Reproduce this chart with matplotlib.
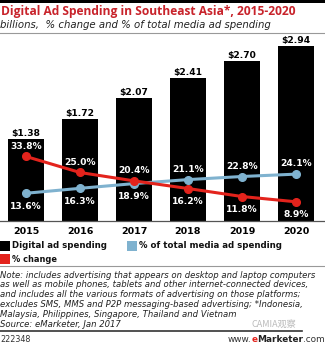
import matplotlib
matplotlib.use("Agg")
import matplotlib.pyplot as plt
from matplotlib.patches import Rectangle
from matplotlib.lines import Line2D
from matplotlib.offsetbox import TextArea, HPacker, AnchoredOffsetbox

years = ["2015", "2016", "2017", "2018", "2019", "2020"]
spending = [1.38, 1.72, 2.07, 2.41, 2.70, 2.94]
pct_change = [33.8, 25.0, 20.4, 16.2, 11.8, 8.9]
pct_total = [13.6, 16.3, 18.9, 21.1, 22.8, 24.1]
spend_labels = ["$1.38", "$1.72", "$2.07", "$2.41", "$2.70", "$2.94"]

RED = "#e3231c"
BLUE = "#7fb2cf"
TITLE_RED = "#c8232b"

W, H = 325, 346
plt.rcParams['font.family'] = ['DejaVu Sans']
fig = plt.figure(figsize=(W / 100, H / 100), dpi=100)
renderer = fig.canvas.get_renderer()

def fy(py):
    return 1 - py / H

def fx(px):
    return px / W

def fit(t, target_px):
    w = t.get_window_extent(renderer=renderer).width
    t.set_fontsize(t.get_fontsize() * target_px / w)

# top thick black band
fig.add_artist(Rectangle((0, fy(3)), 1, 3 / H, transform=fig.transFigure,
                         color="black", lw=0))
t = fig.text(fx(1), fy(12), "Digital Ad Spending in Southeast Asia*, 2015-2020",
             color=TITLE_RED, fontsize=8.3, fontweight="bold", va="center",
             ha="left", family=["Open Sans", "DejaVu Sans"])
fit(t, 294)
t = fig.text(fx(0), fy(25), "billions,  % change and % of total media ad spending",
             color="#222222", fontsize=7.3, style="italic", va="center", ha="left")
fit(t, 272)
fig.add_artist(Line2D([0, 1], [fy(33), fy(33)], transform=fig.transFigure,
                      color="#999999", lw=0.8))

ax = fig.add_axes([0, fy(221), 1, (221 - 40) / H])
x = list(range(len(years)))
ax.bar(x, spending, width=0.667, color="black", zorder=1)
ax.set_xlim(-0.481, 5.537)
ax.set_ylim(0, 3.047)
for i, v in enumerate(spending):
    ax.annotate(spend_labels[i], (i, v), xytext=(0, 4), textcoords="offset points",
                ha="center", va="center", fontsize=6.6, fontweight="bold",
                color="black")
ax.set_yticks([])
ax.set_xticks(x)
ax.set_xticklabels(years, fontsize=6.8, fontweight="bold")
ax.tick_params(axis="x", length=0, pad=4)
for s in ["top", "left", "right"]:
    ax.spines[s].set_visible(False)
ax.spines["bottom"].set_color("#555555")
ax.spines["bottom"].set_linewidth(0.9)

ax2 = ax.twinx()
ax2.set_ylim(-1.65, 97.8)
ax2.plot(x, pct_total, color=BLUE, lw=2.2, marker="o", ms=5.5, zorder=3)
ax2.plot(x, pct_change, color=RED, lw=2.2, marker="o", ms=5.5, zorder=4)
ax2.set_yticks([])
for s in ["top", "left", "right", "bottom"]:
    ax2.spines[s].set_visible(False)

red_above = [True, True, True, False, False, False]
for i in x:
    ra = red_above[i]
    ax2.annotate(f"{pct_change[i]:.1f}%", (i, pct_change[i]),
                 xytext=(0, 7.5 if ra else -9.5), textcoords="offset points",
                 ha="center", va="center",
                 fontsize=6.6, fontweight="bold", color="white")
    ax2.annotate(f"{pct_total[i]:.1f}%", (i, pct_total[i]),
                 xytext=(0, -9.5 if ra else 7.5), textcoords="offset points",
                 ha="center", va="center",
                 fontsize=6.6, fontweight="bold", color="white")

# legend
def legend_item(px, py, color, label, target):
    fig.add_artist(Rectangle((fx(px), fy(py + 5)), 10 / W, 10 / H,
                             transform=fig.transFigure, color=color, lw=0))
    tt = fig.text(fx(px + 12), fy(py), label, fontsize=6.8, fontweight="bold",
                  va="center", ha="left", color="#111111")
    fit(tt, target)

legend_item(0, 246, "black", "Digital ad spending", 95)
legend_item(127, 246, BLUE, "% of total media ad spending", 142)
legend_item(0, 259, RED, "% change", 45)

fig.add_artist(Line2D([0, 1], [fy(266), fy(266)], transform=fig.transFigure,
                      color="#999999", lw=0.8))

notes = [
    "Note: includes advertising that appears on desktop and laptop computers",
    "as well as mobile phones, tablets and other internet-connected devices,",
    "and includes all the various formats of advertising on those platforms;",
    "excludes SMS, MMS and P2P messaging-based advertising; *Indonesia,",
    "Malaysia, Philippines, Singapore, Thailand and Vietnam",
    "Source: eMarketer, Jan 2017",
]
note_texts = []
for k, line in enumerate(notes):
    note_texts.append(fig.text(fx(0), fy(275 + k * 9.9), line, fontsize=6.2,
                               style="italic", va="center", ha="left",
                               color="#222222"))
w0 = note_texts[0].get_window_extent(renderer=renderer).width
fs = 6.2 * 317 / w0
for tt in note_texts:
    tt.set_fontsize(fs)

fig.add_artist(Line2D([0, 0.93], [fy(331), fy(331)], transform=fig.transFigure,
                      color="#333333", lw=1.2))
fig.text(fx(0), fy(339), "222348", fontsize=5.8, va="center", ha="left",
         color="#333333")
fig.text(fx(252), fy(325), "CAMIA观察", fontsize=6.5, va="center", ha="left",
         color="#bbbbbb", family=["Noto Sans CJK SC", "DejaVu Sans"])

parts = [
    TextArea("www.", textprops=dict(fontsize=6.4, color="#333333")),
    TextArea("e", textprops=dict(fontsize=6.4, color=RED, fontweight="bold")),
    TextArea("Marketer", textprops=dict(fontsize=6.4, color="#222222", fontweight="bold")),
    TextArea(".com", textprops=dict(fontsize=6.4, color="#333333")),
]
box = HPacker(children=parts, align="baseline", pad=0, sep=0)
ab = AnchoredOffsetbox(loc="center right", child=box, pad=0, frameon=False,
                       bbox_to_anchor=(fx(325), fy(339)),
                       bbox_transform=fig.transFigure, borderpad=0)
fig.add_artist(ab)

fig.savefig("out.png", dpi=100)
